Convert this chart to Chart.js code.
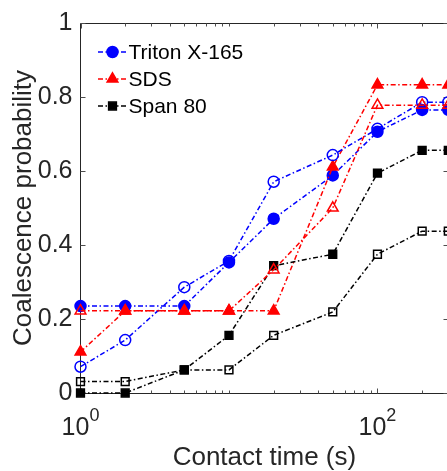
<!DOCTYPE html>
<html>
<head>
<meta charset="utf-8">
<script src="https://cdn.jsdelivr.net/npm/chart.js@4/dist/chart.umd.min.js"></script>
<style>
  html, body { margin: 0; padding: 0; background: #fff; overflow: hidden; }
  #wrap { position: relative; width: 456px; height: 471px; }
</style>
</head>
<body>
<div id="wrap"><canvas id="chart"></canvas></div>
<script>
const FONT = "'Liberation Sans', Arial, Helvetica, sans-serif";
const AXIS_COLOR = '#262626';
const DASH_DOT = [5, 2.5, 1.5, 2.5];

// Contact time (s) and coalescence probability.
const contactTimes = [1, 2, 5, 10, 20, 50, 100, 200, 300];
const tritonFilled = [0.235, 0.235, 0.235, 0.353, 0.471, 0.588, 0.706, 0.765, 0.765];
const tritonOpen   = [0.071, 0.143, 0.286, 0.357, 0.571, 0.643, 0.714, 0.786, 0.786];
const sdsFilled    = [0.111, 0.222, 0.222, 0.222, 0.222, 0.611, 0.833, 0.833, 0.833];
const sdsOpen      = [0.222, 0.222, 0.222, 0.222, 0.333, 0.500, 0.778, 0.778, 0.778];
const spanFilled   = [0, 0, 0.0625, 0.156, 0.344, 0.375, 0.594, 0.656, 0.656];
const spanOpen     = [0.031, 0.031, 0.0625, 0.0625, 0.156, 0.219, 0.375, 0.4375, 0.4375];

const seriesNames = ['Triton X-165', 'SDS', 'Span 80'];
const seriesColors = ['#0000ff', '#ff0000', '#000000'];
const seriesMarkers = ['circle', 'triangle', 'rect'];
const markerRadius = { circle: 5.5, triangle: 6.2, rect: 5.5 };

const yTicks = [0, 0.2, 0.4, 0.6, 0.8, 1];
const yTickLabels = ['0', '0.2', '0.4', '0.6', '0.8', '1'];
const xTickLabels = [{ value: 1, base: '10', exp: '0' }, { value: 100, base: '10', exp: '2' }];
const xMajorTicks = [1, 100];

function makeSeries(values, idx, filled) {
  const color = seriesColors[idx];
  const style = seriesMarkers[idx];
  return {
    label: seriesNames[idx] + (filled ? '' : ' (open)'),
    data: contactTimes.map((x, k) => ({ x, y: values[k] })),
    borderColor: color,
    borderWidth: 1.5,
    borderDash: DASH_DOT,
    pointStyle: style,
    pointRadius: markerRadius[style],
    pointBorderWidth: 1.5,
    pointBorderColor: color,
    pointBackgroundColor: filled ? color : 'rgba(0,0,0,0)',
    fill: false,
    tension: 0,
    clip: false,
  };
}

const datasets = [
  makeSeries(tritonFilled, 0, true),
  makeSeries(sdsFilled, 1, true),
  makeSeries(spanFilled, 2, true),
  makeSeries(tritonOpen, 0, false),
  makeSeries(sdsOpen, 1, false),
  makeSeries(spanOpen, 2, false),
];
// later series on top, like the original plot
datasets.forEach((d, i) => { d.order = datasets.length - 1 - i; });

// Box, inward ticks (bottom/top log ticks, left/right linear ticks)
const framePlugin = {
  id: 'frame',
  beforeDatasetsDraw(chart) {
    const { ctx, chartArea: a, scales: { x, y } } = chart;
    const L = Math.floor(a.left) + 0.5, R = Math.floor(a.right) + 0.5;
    const T = Math.floor(a.top) + 0.5, B = Math.floor(a.bottom) + 0.5;
    ctx.save();
    ctx.strokeStyle = AXIS_COLOR;
    ctx.lineWidth = 1;
    ctx.beginPath();
    ctx.rect(L, T, R - L, B - T);
    ctx.stroke();

    ctx.strokeStyle = '#4d4d4d';
    ctx.beginPath();
    for (let dec = 1; dec <= x.max; dec *= 10) {
      for (let m = 1; m <= 9; m++) {
        const v = dec * m;
        if (v < x.min || v > x.max) continue;
        const len = xMajorTicks.includes(v) ? 5 : 3;
        const px = Math.round(x.getPixelForValue(v)) + 0.5;
        ctx.moveTo(px, B); ctx.lineTo(px, B - len);
        ctx.moveTo(px, T); ctx.lineTo(px, T + len);
      }
    }
    yTicks.forEach(v => {
      const py = Math.round(y.getPixelForValue(v)) + 0.5;
      ctx.moveTo(L, py); ctx.lineTo(L + 5, py);
      ctx.moveTo(R, py); ctx.lineTo(R - 5, py);
    });
    ctx.stroke();
    ctx.restore();
  },
  afterDraw(chart) {
    const { ctx, scales: { x } } = chart;
    ctx.save();
    ctx.fillStyle = AXIS_COLOR;
    ctx.textBaseline = 'alphabetic';
    ctx.textAlign = 'left';
    // x tick labels with superscript exponents
    xTickLabels.forEach(t => {
      ctx.font = `25px ${FONT}`;
      const wb = ctx.measureText(t.base).width;
      ctx.font = `18px ${FONT}`;
      const we = ctx.measureText(t.exp).width;
      const cx = x.getPixelForValue(t.value);
      const x0 = cx - (wb + we) / 2;
      ctx.font = `25px ${FONT}`;
      ctx.fillText(t.base, x0, 435);
      ctx.font = `18px ${FONT}`;
      ctx.fillText(t.exp, x0 + wb, 421);
    });

    // legend: dash-dot sample with filled marker
    const rowY = [52, 79, 106];
    seriesNames.forEach((name, i) => {
      const yy = rowY[i];
      const color = seriesColors[i];
      ctx.strokeStyle = color;
      ctx.fillStyle = color;
      ctx.lineWidth = 1.5;
      ctx.setLineDash(DASH_DOT);
      ctx.beginPath();
      ctx.moveTo(98, yy); ctx.lineTo(127, yy);
      ctx.stroke();
      ctx.setLineDash([]);
      Chart.helpers.drawPoint(ctx, {
        pointStyle: seriesMarkers[i],
        radius: markerRadius[seriesMarkers[i]],
        borderWidth: 1.5,
        rotation: 0,
      }, 112.5, yy);
      ctx.fillStyle = '#000';
      ctx.font = `21px ${FONT}`;
      ctx.textBaseline = 'middle';
      ctx.fillText(name, 128.5, yy + 1);
    });
    ctx.restore();
  }
};

new Chart(document.getElementById('chart'), {
  type: 'line',
  data: { datasets },
  plugins: [framePlugin],
  options: {
    responsive: true,
    maintainAspectRatio: false,
    animation: false,
    layout: { padding: { top: 16, right: 6.5, left: 0, bottom: 0 } },
    plugins: { legend: { display: false }, tooltip: { enabled: false } },
    scales: {
      x: {
        type: 'logarithmic',
        min: 1,
        max: 300,
        grid: { display: false, drawTicks: false },
        border: { display: false },
        ticks: { display: false },
        afterFit: s => { s.height = 78; },
        title: {
          display: true,
          text: 'Contact time (s)',
          color: AXIS_COLOR,
          font: { family: FONT, size: 26, lineHeight: 1 },
          padding: { top: 0, bottom: 0 },
        },
      },
      y: {
        type: 'linear',
        min: 0,
        max: 1,
        grid: { display: false, drawTicks: false },
        border: { display: false },
        afterBuildTicks: s => { s.ticks = yTicks.map(v => ({ value: v })); },
        ticks: {
          color: AXIS_COLOR,
          font: { family: FONT, size: 25 },
          padding: 8,
          callback: (v) => yTickLabels[yTicks.indexOf(v)] ?? '',
        },
        afterFit: s => { s.width = 80.5; },
        title: {
          display: true,
          text: 'Coalescence probability',
          color: AXIS_COLOR,
          font: { family: FONT, size: 26, lineHeight: 1 },
          padding: { top: 11, bottom: 0 },
        },
      },
    },
  },
});
</script>
</body>
</html>
